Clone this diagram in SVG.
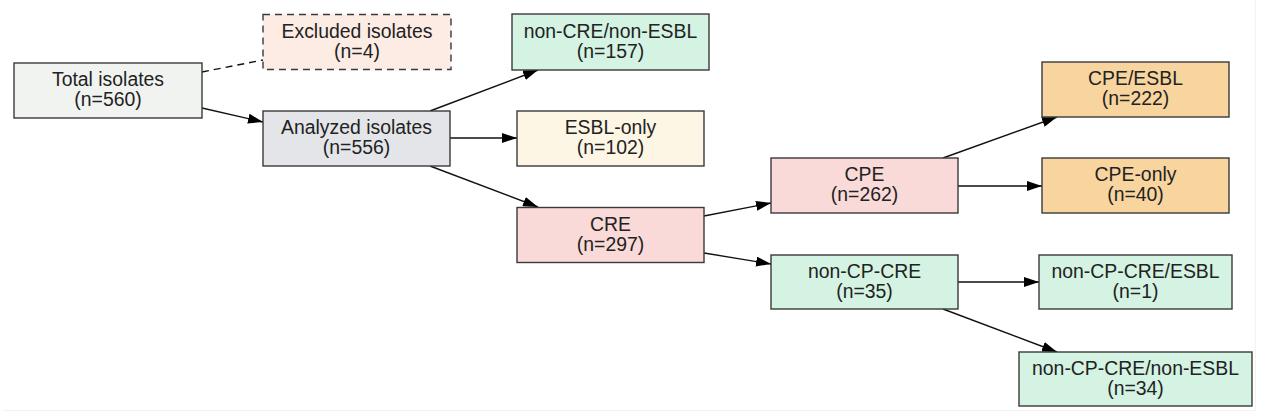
<svg xmlns="http://www.w3.org/2000/svg" width="1265" height="420" viewBox="0 0 1265 420">
<style>
.n rect{stroke:#3a3a3a;stroke-width:1.4}
.n text{font-family:"Liberation Sans",Arial,sans-serif;font-size:19.4px;fill:#222;text-anchor:middle}
.e{stroke:#111;stroke-width:1.4;fill:none}
.a{marker-end:url(#ah)}
</style>
<defs>
<marker id="ah" viewBox="0 0 15 10" refX="15" refY="5" markerWidth="15" markerHeight="10" markerUnits="userSpaceOnUse" orient="auto">
<path d="M0,0 L15,5 L0,10 Z" fill="#000"/>
</marker>
</defs>
<rect x="0" y="0" width="1265" height="420" fill="#fff"/>
<path d="M3,410.5 H1255.5 V0" fill="none" stroke="#f2f2f2" stroke-width="1"/>
<g id="connectors">
<line class="e" x1="202" y1="72" x2="263" y2="60" stroke-dasharray="7,5"/>
<line class="e a" x1="202" y1="108" x2="263" y2="122"/>
<line class="e a" x1="430" y1="111" x2="538" y2="70"/>
<line class="e a" x1="450" y1="138" x2="517" y2="138"/>
<line class="e a" x1="430" y1="166" x2="538" y2="207"/>
<line class="e a" x1="704" y1="216" x2="771" y2="203"/>
<line class="e a" x1="704" y1="253" x2="771" y2="264"/>
<line class="e a" x1="943" y1="158" x2="1057" y2="117"/>
<line class="e a" x1="958" y1="186" x2="1042" y2="186"/>
<line class="e a" x1="958" y1="282" x2="1039" y2="282"/>
<line class="e a" x1="943" y1="309" x2="1057" y2="352"/>
</g>
<g id="total" class="n"><rect x="14" y="63" width="188" height="55" fill="#f1f3f1"/><text x="108" y="86">Total isolates</text><text x="108" y="106">(n=560)</text></g>
<g id="excluded" class="n"><rect x="263" y="14.5" width="188" height="55" fill="#fcece4" stroke-dasharray="7,5"/><text x="357" y="37.5">Excluded isolates</text><text x="357" y="57.5">(n=4)</text></g>
<g id="analyzed" class="n"><rect x="263" y="111" width="187" height="55" fill="#e4e5e8"/><text x="356.5" y="134">Analyzed isolates</text><text x="356.5" y="154">(n=556)</text></g>
<g id="noncre" class="n"><rect x="512" y="14" width="197" height="56" fill="#d4f3e2"/><text x="610.5" y="37.5">non-CRE/non-ESBL</text><text x="610.5" y="57.5">(n=157)</text></g>
<g id="esblonly" class="n"><rect x="517" y="111" width="187" height="55" fill="#fdf6e5"/><text x="610.5" y="134">ESBL-only</text><text x="610.5" y="154">(n=102)</text></g>
<g id="cre" class="n"><rect x="517" y="207.5" width="187" height="55" fill="#f9dad8"/><text x="610.5" y="230.5">CRE</text><text x="610.5" y="250.5">(n=297)</text></g>
<g id="cpe" class="n"><rect x="771" y="158" width="187" height="55" fill="#f9dad8"/><text x="864.5" y="181">CPE</text><text x="864.5" y="201">(n=262)</text></g>
<g id="cpeesbl" class="n"><rect x="1042" y="62" width="187" height="55" fill="#f8d59e"/><text x="1135.5" y="85">CPE/ESBL</text><text x="1135.5" y="105">(n=222)</text></g>
<g id="cpeonly" class="n"><rect x="1042" y="158" width="187" height="55" fill="#f8d59e"/><text x="1135.5" y="181">CPE-only</text><text x="1135.5" y="201">(n=40)</text></g>
<g id="noncpcre" class="n"><rect x="771" y="255" width="187" height="54" fill="#d4f3e2"/><text x="864.5" y="277.5">non-CP-CRE</text><text x="864.5" y="297.5">(n=35)</text></g>
<g id="noncpcreesbl" class="n"><rect x="1039" y="255" width="193" height="54" fill="#d4f3e2"/><text x="1135.5" y="277.5">non-CP-CRE/ESBL</text><text x="1135.5" y="297.5">(n=1)</text></g>
<g id="noncpcrenonesbl" class="n"><rect x="1019" y="352" width="233" height="54" fill="#d4f3e2"/><text x="1135.5" y="374.5">non-CP-CRE/non-ESBL</text><text x="1135.5" y="394.5">(n=34)</text></g>
</svg>
